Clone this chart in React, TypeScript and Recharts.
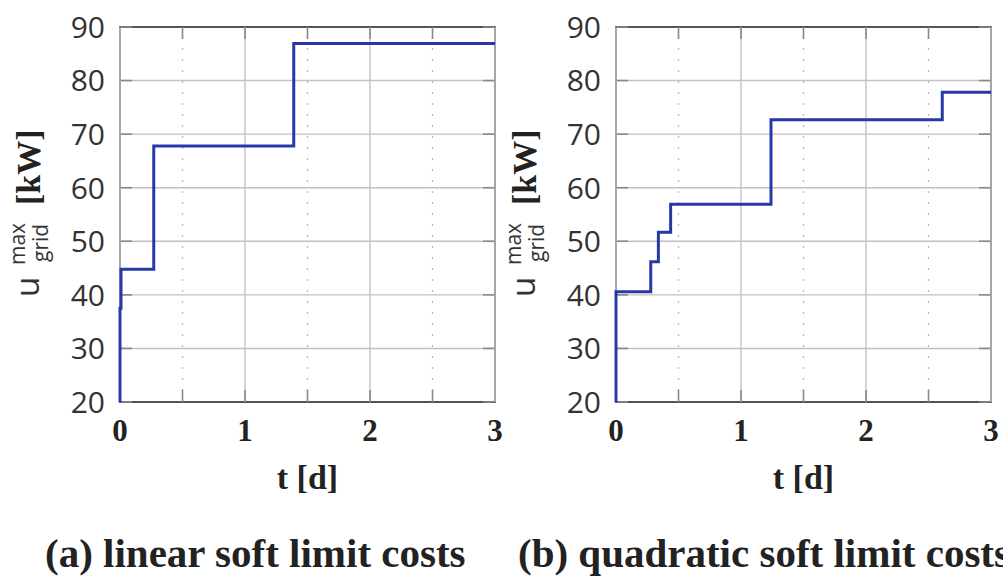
import React from "react";
import {
  LineChart,
  Line,
  XAxis,
  YAxis,
  CartesianGrid,
  ReferenceLine,
  ReferenceArea,
} from "recharts";

// step change points: time in days, power in kW
const linearT = [0, 0, 0.008, 0.27, 1.39, 3];
const linearU = [20, 37.5, 44.8, 67.8, 86.9, 86.9];

const quadraticT = [0, 0, 0.278, 0.339, 0.437, 1.24, 2.61, 3];
const quadraticU = [20, 40.6, 46.2, 51.7, 56.9, 72.7, 77.8, 77.8];

const yTicks = [20, 30, 40, 50, 60, 70, 80, 90];
const xTicks = [0, 0.5, 1, 1.5, 2, 2.5, 3];
const majorX = [0, 1, 2, 3];
const minorX = [0.5, 1.5, 2.5];

const captions = ["(a) linear soft limit costs", "(b) quadratic soft limit costs"];

const W = 512;
const H = 500;
const PLOT_LEFT = 120;
const PLOT_RIGHT = 495;
const PLOT_TOP = 27;
const PLOT_BOTTOM = 402;
const TICK_IN = 12;

const LINE_BLUE = "#2639a6";
const FRAME = "#555";
const GRID = "#c2c2c2";

function YTick({ x, y, payload }: any) {
  return (
    <g>
      <line x1={PLOT_LEFT + 1} x2={PLOT_LEFT + TICK_IN} y1={y} y2={y} stroke="#888" strokeWidth={1.6} />
      <line x1={PLOT_RIGHT - TICK_IN} x2={PLOT_RIGHT - 1} y1={y} y2={y} stroke="#888" strokeWidth={1.6} />
      <text
        x={x}
        y={y}
        dy="0.36em"
        textAnchor="end"
        fontFamily="'Open Sans', sans-serif"
        fontSize={30}
        fill="#333"
      >
        {payload.value}
      </text>
    </g>
  );
}

function XTick({ x, payload }: any) {
  const isMajor = Number.isInteger(payload.value);
  const edge = payload.value === 0 || payload.value === 3;
  return (
    <g>
      {!edge && (
        <>
          <line x1={x} x2={x} y1={PLOT_BOTTOM} y2={PLOT_BOTTOM - TICK_IN} stroke="#888" strokeWidth={1.6} />
          <line x1={x} x2={x} y1={PLOT_TOP} y2={PLOT_TOP + TICK_IN} stroke="#888" strokeWidth={1.6} />
        </>
      )}
      {isMajor && (
        <text
          x={x}
          y={PLOT_BOTTOM + 39}
          textAnchor="middle"
          fontFamily="'Liberation Serif', 'Times New Roman', serif"
          fontWeight="bold"
          fontSize={31}
          fill="#222"
        >
          {payload.value}
        </text>
      )}
    </g>
  );
}

function XLabel() {
  return (
    <text
      x={PLOT_LEFT + (PLOT_RIGHT - PLOT_LEFT) / 2}
      y={489}
      textAnchor="middle"
      fontFamily="'Liberation Serif', 'Times New Roman', serif"
      fontWeight="bold"
      fontSize={34}
      fill="#222"
    >
      t [d]
    </text>
  );
}

function YLabel() {
  // rotated -90deg: local x = -screen y, local y = screen x
  return (
    <g transform="rotate(-90)" fill="#333">
      <text x={-297} y={39} fontFamily="'Open Sans', sans-serif" fontSize={33}>
        u
      </text>
      <text x={-265} y={25} fontFamily="'Open Sans', sans-serif" fontSize={21}>
        max
      </text>
      <text x={-262} y={48} fontFamily="'Open Sans', sans-serif" fontSize={21}>
        grid
      </text>
      <text
        x={-205}
        y={40}
        fontFamily="'Liberation Serif', 'Times New Roman', serif"
        fontWeight="bold"
        fontSize={34}
        fill="#222"
      >
        [kW]
      </text>
    </g>
  );
}

function Panel({ ts, us, left }: { ts: number[]; us: number[]; left: number }) {
  const data = ts.map((t, i) => ({ t, u: us[i] }));
  return (
    <div style={{ position: "absolute", left, top: 0 }}>
      <LineChart width={W} height={H} data={data} margin={{ top: PLOT_TOP, right: W - PLOT_RIGHT, left: 0, bottom: 0 }}>
        <CartesianGrid vertical={false} stroke={GRID} strokeWidth={1.4} />
        {majorX.map((v) => (
          <ReferenceLine key={"M" + v} x={v} stroke={GRID} strokeWidth={1.4} />
        ))}
        {minorX.map((v) => (
          <ReferenceLine key={"m" + v} x={v} stroke="#b8b8b8" strokeWidth={1.3} strokeDasharray="2 9" />
        ))}
        <ReferenceArea
          x1={0}
          x2={3}
          y1={20}
          y2={90}
          fill="none"
          stroke={FRAME}
          strokeWidth={1.8}
          {...({ zIndex: 50 } as any)}
        />
        <XAxis
          dataKey="t"
          type="number"
          domain={[0, 3]}
          ticks={xTicks}
          interval={0}
          height={H - PLOT_BOTTOM}
          axisLine={false}
          tickLine={false}
          tickSize={0}
          tickMargin={0}
          tick={<XTick />}
          label={{ content: <XLabel /> }}
        />
        <YAxis
          type="number"
          domain={[20, 90]}
          ticks={yTicks}
          interval={0}
          width={PLOT_LEFT}
          axisLine={false}
          tickLine={false}
          tickSize={0}
          tickMargin={15}
          tick={<YTick />}
          label={{ content: <YLabel /> }}
        />
        <Line
          type="stepAfter"
          dataKey="u"
          stroke={LINE_BLUE}
          strokeWidth={3}
          dot={false}
          activeDot={false}
          isAnimationActive={false}
          {...({ zIndex: 3000 } as any)}
        />
      </LineChart>
    </div>
  );
}

export default function App() {
  return (
    <div style={{ position: "absolute", left: 0, top: 0, width: 1003, height: 576, overflow: "hidden", background: "#fff" }}>
      <Panel ts={linearT} us={linearU} left={0} />
      <Panel ts={quadraticT} us={quadraticU} left={496} />
      <svg width={1003} height={576} style={{ position: "absolute", left: 0, top: 0, pointerEvents: "none" }}>
        <text
          x={45}
          y={567}
          fontFamily="'Liberation Serif', 'Times New Roman', serif"
          fontWeight="bold"
          fontSize={41}
          fill="#222"
        >
          {captions[0]}
        </text>
        <text
          x={518}
          y={567}
          fontFamily="'Liberation Serif', 'Times New Roman', serif"
          fontWeight="bold"
          fontSize={41}
          fill="#222"
        >
          {captions[1]}
        </text>
      </svg>
    </div>
  );
}
